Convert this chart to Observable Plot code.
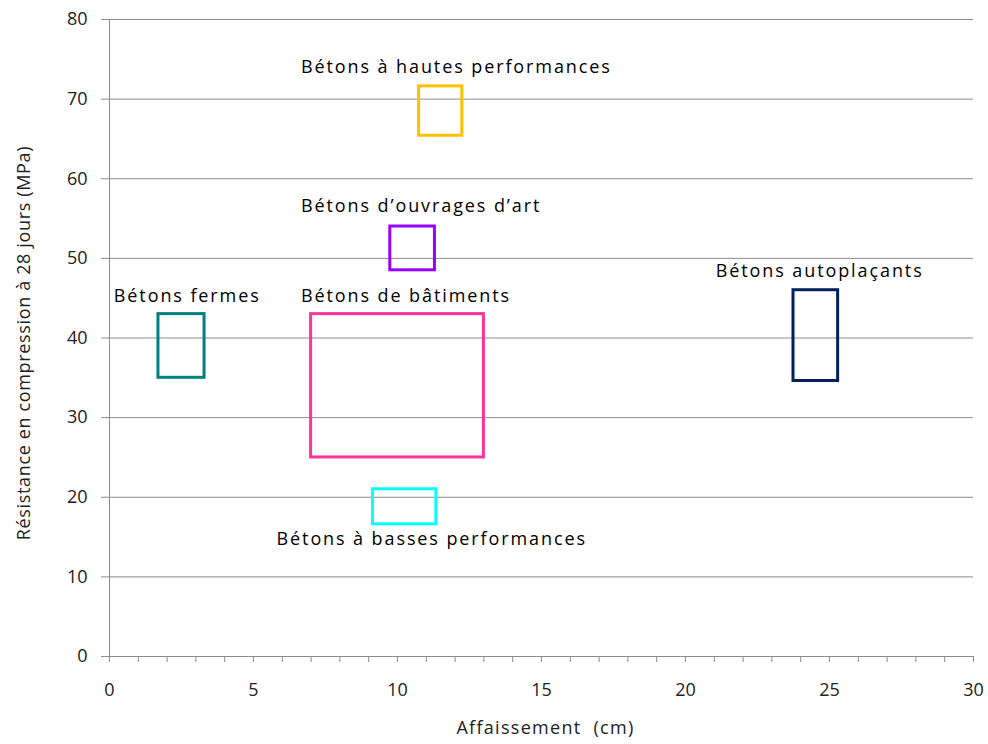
<!DOCTYPE html>
<html>
<head>
<meta charset="utf-8">
<script src="https://cdn.jsdelivr.net/npm/d3@7"></script>
<script src="https://cdn.jsdelivr.net/npm/@observablehq/plot@0.6"></script>
<style>
  html, body { margin: 0; padding: 0; background: #fff; }
  #chart svg { display: block; }
  .x-title text { letter-spacing: 1.3px; }
  .y-title text { letter-spacing: 0.65px; }
  .box-label text { letter-spacing: 1.9px; }
</style>
</head>
<body>
<div id="chart"></div>
<script>
// Categories (concrete families)
const categories = [
  "Bétons fermes",
  "Bétons de bâtiments",
  "Bétons d’ouvrages d’art",
  "Bétons à hautes performances",
  "Bétons à basses performances",
  "Bétons autoplaçants"
];
// Slump range (cm)
const slumpMin = [1.7, 7.0, 9.75, 10.75, 9.15, 23.75];
const slumpMax = [3.3, 13.0, 11.3, 12.25, 11.35, 25.3];
// Compressive strength range at 28 days (MPa)
const strengthMin = [35, 25, 48.5, 65.4, 16.6, 34.6];
const strengthMax = [43, 43, 54, 71.6, 21, 46];
// Colours
const colors = ["#008080", "#FF3399", "#9900FF", "#FFC000", "#00FFFF", "#002060"];
// Label anchors (data coordinates)
const labelX = [0.15, 6.65, 6.65, 6.65, 5.8, 21.05];
const labelY = [45.3, 45.3, 56.6, 74.0, 14.7, 48.4];
// Ticks
const xMajorTicks = [0, 5, 10, 15, 20, 25, 30];
const xMinorTicks = d3.range(0, 31, 1);
const yTicks = [0, 10, 20, 30, 40, 50, 60, 70, 80];

const boxes = categories.map((c, i) => ({
  name: c, x1: slumpMin[i], x2: slumpMax[i], y1: strengthMin[i], y2: strengthMax[i], color: colors[i]
}));
const labels = categories.map((c, i) => ({ name: c, x: labelX[i], y: labelY[i] }));

const axisFont = "'Open Sans', sans-serif";
const labelFont = "'Open Sans', sans-serif";

const chart = Plot.plot({
  width: 988,
  height: 744,
  marginLeft: 109,
  marginRight: 15,
  marginTop: 19,
  marginBottom: 88,
  style: { background: "#fff", color: "#222", fontFamily: axisFont },
  x: { domain: [0, 30], label: null },
  y: { domain: [0, 80], label: null },
  marks: [
    Plot.gridY(yTicks, { stroke: "#8c8c8c", strokeOpacity: 1, strokeWidth: 1 }),
    Plot.axisY(yTicks, {
      tickSize: 8, tickPadding: 14, stroke: "#8c8c8c", fontSize: 18, fill: "#222",
      fontFamily: axisFont, label: null
    }),
    Plot.axisX(xMinorTicks, { tickSize: 6, stroke: "#8c8c8c", tickFormat: () => "", label: null }),
    Plot.axisX(xMajorTicks, {
      tickSize: 6, tickPadding: 21, stroke: "#8c8c8c", fontSize: 18, fill: "#222",
      fontFamily: axisFont, label: null
    }),
    Plot.ruleX([0], { stroke: "#8c8c8c" }),
    Plot.ruleY([0], { stroke: "#8c8c8c" }),
    Plot.rect(boxes, {
      x1: "x1", x2: "x2", y1: "y1", y2: "y2",
      stroke: "color", fill: "none", strokeWidth: 3
    }),
    Plot.text(labels, {
      x: "x", y: "y", text: "name", textAnchor: "start",
      fontSize: 18, fontFamily: labelFont, fill: "#000", className: "box-label"
    }),
    Plot.text(["Affaissement\u00a0 (cm)"], {
      frameAnchor: "bottom", dx: 4, dy: 77, textAnchor: "middle", fontSize: 18,
      fontFamily: axisFont, fill: "#222", className: "x-title"
    }),
    Plot.text(["Résistance en compression à 28 jours (MPa)"], {
      frameAnchor: "left", dx: -85, dy: 5, rotate: -90, textAnchor: "middle", fontSize: 18,
      fontFamily: axisFont, fill: "#222", className: "y-title"
    })
  ]
});
document.getElementById("chart").appendChild(chart);
</script>
</body>
</html>
